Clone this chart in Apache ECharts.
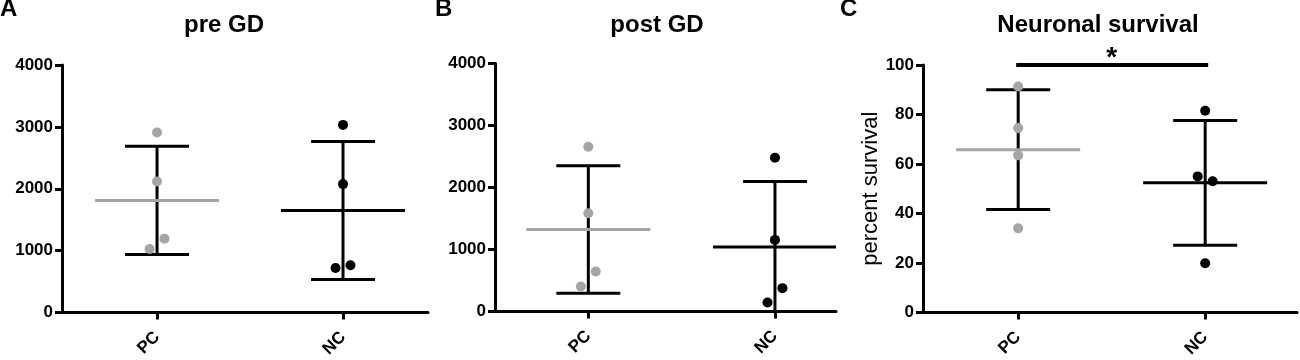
<!DOCTYPE html>
<html>
<head>
<meta charset="utf-8">
<script src="https://cdn.jsdelivr.net/npm/echarts@6/dist/echarts.min.js"></script>
<style>html,body{margin:0;padding:0;background:#fff}#c{width:1300px;height:360px}</style>
</head>
<body>
<div id="c"></div>
<script>
// ---- data ----
const categories = ['PC', 'NC'];
const panelTitles = ['pre GD', 'post GD', 'Neuronal survival'];
const panelLetters = ['A', 'B', 'C'];

const preGD_PC = [2908, 2118, 1194, 1027];
const preGD_NC = [3032, 2075, 720, 763];
const preGD_mean = [1812, 1648];
const preGD_sd = [873, 1115];
const preGD_jitterPC = [0, 0, 0.04, -0.04];
const preGD_jitterNC = [0, 0, -0.04, 0.04];

const postGD_PC = [2658, 1585, 644, 403];
const postGD_NC = [2481, 1155, 377, 145];
const postGD_mean = [1322, 1040];
const postGD_sd = [1027, 1055];
const postGD_jitterPC = [0, 0, 0.04, -0.04];
const postGD_jitterNC = [0, 0, 0.04, -0.04];

const surv_PC = [91.3, 74.5, 63.5, 34.0];
const surv_NC = [81.5, 55.0, 53.0, 19.9];
const surv_mean = [65.8, 52.4];
const surv_sd = [24.2, 25.2];
const surv_jitterPC = [0, 0, 0, 0];
const surv_jitterNC = [0, -0.04, 0.04, 0];

const yTicksCount = [0, 1000, 2000, 3000, 4000];
const yTicksPct = [0, 20, 40, 60, 80, 100];
const sigLabel = '*';
const yNameC = 'percent survival';

// ---- styles ----
const FONT = '"Liberation Sans", Arial, Helvetica, sans-serif';
const GRAY = '#a5a5a5';
const BLACK = '#000000';
const groupColors = [GRAY, BLACK];

const grids = [
  { left: 62, top: 65, width: 366, height: 248 },
  { left: 495, top: 63.5, width: 341, height: 248 },
  { left: 923, top: 65, width: 374, height: 248 }
];
const xRanges = [[0.489, 2.457], [0.5, 2.327], [0.491, 2.491]];
const yIntervals = [1000, 1000, 20];

const panels = [
  { pc: preGD_PC, nc: preGD_NC, mean: preGD_mean, sd: preGD_sd, jpc: preGD_jitterPC, jnc: preGD_jitterNC },
  { pc: postGD_PC, nc: postGD_NC, mean: postGD_mean, sd: postGD_sd, jpc: postGD_jitterPC, jnc: postGD_jitterNC },
  { pc: surv_PC, nc: surv_NC, mean: surv_mean, sd: surv_sd, jpc: surv_jitterPC, jnc: surv_jitterNC }
];

function renderErr(params, api) {
  const x = api.value(0), m = api.value(1), sd = api.value(2);
  const c = api.coord([x, m]);
  const t = api.coord([x, m + sd]);
  const b = api.coord([x, m - sd]);
  const col = groupColors[params.dataIndex];
  const capW = 32, meanW = 62;
  const ls = { stroke: BLACK, lineWidth: 3 };
  return {
    type: 'group',
    children: [
      { type: 'line', shape: { x1: c[0], y1: t[1], x2: c[0], y2: b[1] }, style: ls },
      { type: 'line', shape: { x1: c[0] - capW, y1: t[1], x2: c[0] + capW, y2: t[1] }, style: ls },
      { type: 'line', shape: { x1: c[0] - capW, y1: b[1], x2: c[0] + capW, y2: b[1] }, style: ls },
      { type: 'line', shape: { x1: c[0] - meanW, y1: c[1], x2: c[0] + meanW, y2: c[1] }, style: { stroke: col, lineWidth: 3 } }
    ]
  };
}

function renderSig(params, api) {
  const a = api.coord([api.value(0), api.value(2)]);
  const b = api.coord([api.value(1), api.value(2)]);
  return {
    type: 'group',
    children: [
      { type: 'line', shape: { x1: a[0] - 2, y1: a[1], x2: b[0] + 3, y2: b[1] }, style: { stroke: BLACK, lineWidth: 4 } },
      { type: 'text', style: { text: sigLabel, x: (a[0] + b[0]) / 2, y: a[1] - 6.5, align: 'center', verticalAlign: 'middle', font: 'bold 28px ' + FONT, fill: BLACK } }
    ]
  };
}

const xAxis = [], yAxis = [], series = [];
grids.forEach((g, i) => {
  xAxis.push({
    type: 'value', gridIndex: i, min: xRanges[i][0], max: xRanges[i][1],
    axisLine: { show: true, lineStyle: { color: BLACK, width: 3 } },
    axisTick: { show: true, length: 7, lineStyle: { color: BLACK, width: 3 }, customValues: [1, 2] },
    axisLabel: { show: true, customValues: [1, 2], rotate: 45, margin: 22, color: BLACK,
      fontSize: 17, fontWeight: 'bold', fontFamily: FONT, formatter: v => categories[Math.round(v) - 1] || '' },
    splitLine: { show: false }
  });
  const yt = i === 2 ? yTicksPct : yTicksCount;
  yAxis.push({
    type: 'value', gridIndex: i, min: yt[0], max: yt[yt.length - 1], interval: yIntervals[i],
    axisLine: { show: true, lineStyle: { color: BLACK, width: 3 } },
    axisTick: { show: true, length: 7, lineStyle: { color: BLACK, width: 3 } },
    axisLabel: { margin: 9, color: BLACK, fontSize: 17, fontWeight: 'bold', fontFamily: FONT, formatter: v => String(v) },
    splitLine: { show: false },
    name: i === 2 ? yNameC : '',
    nameLocation: 'middle', nameRotate: 90, nameGap: 33,
    nameTextStyle: { fontSize: 22, color: BLACK, fontFamily: FONT, fontWeight: 'normal' }
  });
  const p = panels[i];
  series.push({
    type: 'custom', xAxisIndex: i, yAxisIndex: i, z: 2, clip: true,
    renderItem: renderErr,
    data: [[1, p.mean[0], p.sd[0]], [2, p.mean[1], p.sd[1]]]
  });
  series.push({
    type: 'scatter', xAxisIndex: i, yAxisIndex: i, z: 3, symbolSize: 10,
    itemStyle: { color: GRAY, opacity: 1 }, silent: true,
    data: p.pc.map((v, k) => [1 + p.jpc[k], v])
  });
  series.push({
    type: 'scatter', xAxisIndex: i, yAxisIndex: i, z: 3, symbolSize: 10,
    itemStyle: { color: BLACK, opacity: 1 }, silent: true,
    data: p.nc.map((v, k) => [2 + p.jnc[k], v])
  });
});
series.push({
  type: 'custom', xAxisIndex: 2, yAxisIndex: 2, z: 4, clip: false,
  renderItem: renderSig, data: [[1, 2, 100]]
});

const titleX = [224, 657, 1098];
const letterX = [0, 435, 840];
const graphic = [];
panelTitles.forEach((t, i) => {
  graphic.push({ type: 'text', x: titleX[i], y: 25,
    style: { text: t, align: 'center', verticalAlign: 'middle', font: 'bold 24px ' + FONT, fill: BLACK } });
  graphic.push({ type: 'text', x: letterX[i], y: 9,
    style: { text: panelLetters[i], align: 'left', verticalAlign: 'middle', font: 'bold 24px ' + FONT, fill: BLACK } });
});

const chart = echarts.init(document.getElementById('c'), null, { renderer: 'canvas' });
chart.setOption({
  backgroundColor: '#ffffff',
  animation: false,
  grid: grids,
  xAxis: xAxis,
  yAxis: yAxis,
  series: series,
  graphic: graphic
});
</script>
</body>
</html>
